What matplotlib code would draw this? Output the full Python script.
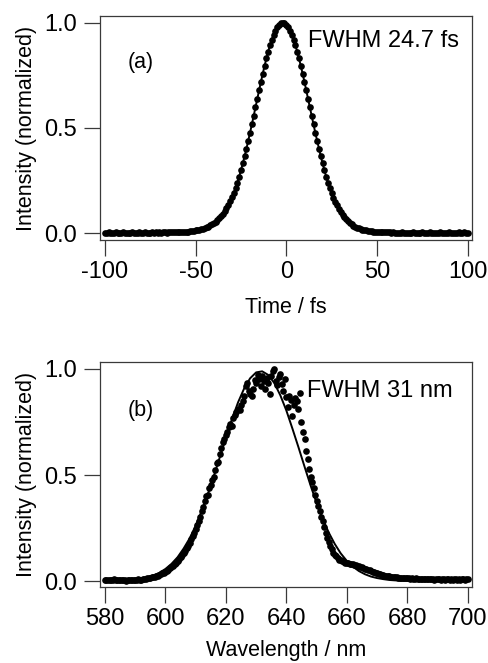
import numpy as np
import matplotlib
matplotlib.use("Agg")
import matplotlib.pyplot as plt

plt.rcParams['font.family'] = ['Liberation Sans', 'DejaVu Sans']
plt.rcParams['axes.unicode_minus'] = False

# ---- panel (a): autocorrelation trace, one point per fs ----
time_fs = np.arange(-100, 101, 1)
ac_signal = [
    0.002, 0.001, 0.003, 0.002, 0.002, 0.001, 0.003, 0.002, 0.001, 0.002,
    0.003, 0.002, 0.002, 0.001, 0.002, 0.003, 0.002, 0.002, 0.001, 0.003,
    0.002, 0.002, 0.003, 0.002, 0.001, 0.002, 0.003, 0.002, 0.003, 0.002,
    0.003, 0.002, 0.003, 0.003, 0.002, 0.003, 0.004, 0.003, 0.003, 0.004,
    0.004, 0.004, 0.005, 0.005, 0.006, 0.006, 0.007, 0.008,
    0.009, 0.010, 0.012, 0.013, 0.015, 0.017, 0.020, 0.023, 0.027, 0.031,
    0.036, 0.041, 0.047, 0.054, 0.062, 0.071, 0.081, 0.092, 0.105, 0.119,
    0.135, 0.152, 0.170, 0.191, 0.214, 0.240, 0.268, 0.299, 0.331, 0.365,
    0.401, 0.439, 0.477, 0.517, 0.557, 0.598, 0.639, 0.680, 0.720, 0.759,
    0.796, 0.831, 0.864, 0.894, 0.921, 0.945, 0.964, 0.980, 0.991, 0.998,
    1.000, 0.998, 0.991, 0.980, 0.964, 0.945, 0.921, 0.894, 0.864, 0.831,
    0.796, 0.759, 0.720, 0.680, 0.639, 0.598, 0.557, 0.517, 0.477, 0.439,
    0.401, 0.365, 0.331, 0.299, 0.268, 0.240, 0.214, 0.189, 0.167, 0.147,
    0.131, 0.114, 0.099, 0.086, 0.075, 0.065, 0.056, 0.048, 0.041, 0.035,
    0.030, 0.026, 0.022, 0.019, 0.016, 0.014, 0.012, 0.010, 0.009, 0.008,
    0.007, 0.006, 0.005, 0.005, 0.004, 0.004, 0.004, 0.003, 0.003, 0.003,
    0.002, 0.003, 0.002, 0.002, 0.001, 0.002, 0.003, 0.002, 0.002, 0.001,
    0.002, 0.002, 0.003, 0.002, 0.001, 0.002, 0.002, 0.003, 0.002, 0.001,
    0.002, 0.003, 0.002, 0.002, 0.001, 0.002, 0.002, 0.003, 0.002, 0.002,
    0.001, 0.002, 0.003, 0.002, 0.002, 0.001, 0.002, 0.003, 0.002, 0.002,
    0.003, 0.002, 0.002,
]

# ---- panel (b): spectrum, 0.5 nm steps ----
wavelength_nm = np.arange(580, 700.01, 0.5)
spectrum = [
    # 580 - 594.5
    0.006, 0.004, 0.007, 0.005, 0.003, 0.006, 0.008, 0.004, 0.005, 0.007,
    0.003, 0.005, 0.006, 0.004, 0.002, 0.005, 0.007, 0.004, 0.006, 0.005,
    0.003, 0.006, 0.008, 0.005, 0.007, 0.008, 0.010, 0.009, 0.012, 0.013,
    # 595 - 609.5
    0.015, 0.017, 0.018, 0.021, 0.024, 0.026, 0.030, 0.033, 0.036, 0.040,
    0.044, 0.049, 0.053, 0.060, 0.065, 0.072, 0.080, 0.086, 0.095, 0.103,
    0.114, 0.122, 0.133, 0.142, 0.156, 0.167, 0.180, 0.196, 0.211, 0.226,
    # 610 - 659.5
    0.244, 0.262, 0.284, 0.304, 0.330, 0.349, 0.376, 0.402, 0.404, 0.437,
    0.452, 0.478, 0.489, 0.522, 0.556, 0.561, 0.597, 0.626, 0.655, 0.668,
    0.691, 0.702, 0.726, 0.741, 0.733, 0.768, 0.781, 0.795, 0.812, 0.806,
    0.829, 0.851, 0.872, 0.918, 0.935, 0.896, 0.883, 0.871, 0.908, 0.947,
    0.934, 0.972, 0.951, 0.921, 0.968, 0.942, 0.905, 0.958, 0.936, 0.884,
    0.967, 0.989, 1.000, 0.943, 0.925, 0.962, 0.978, 0.931, 0.897, 0.952,
    0.866, 0.823, 0.871, 0.853, 0.779, 0.832, 0.861, 0.847, 0.812, 0.889,
    0.752, 0.703, 0.668, 0.612, 0.576, 0.530, 0.492, 0.466, 0.437, 0.404,
    0.379, 0.352, 0.331, 0.303, 0.281, 0.253, 0.226, 0.205, 0.183, 0.166,
    0.151, 0.134, 0.124, 0.116, 0.108, 0.101, 0.097, 0.093, 0.090, 0.087,
    # 660 - 679.5
    0.085, 0.083, 0.081, 0.080, 0.078, 0.076, 0.074, 0.073, 0.070, 0.068,
    0.065, 0.063, 0.059, 0.056, 0.053, 0.050, 0.047, 0.044, 0.041, 0.039,
    0.036, 0.034, 0.032, 0.030, 0.028, 0.026, 0.025, 0.023, 0.022, 0.021,
    0.020, 0.019, 0.018, 0.017, 0.016, 0.016, 0.015, 0.014, 0.014, 0.013,
    # 680 - 700
    0.012, 0.013, 0.011, 0.012, 0.010, 0.011, 0.012, 0.010, 0.009, 0.011,
    0.010, 0.009, 0.010, 0.008, 0.009, 0.010, 0.008, 0.009, 0.007, 0.009,
    0.008, 0.009, 0.007, 0.008, 0.010, 0.007, 0.008, 0.009, 0.006, 0.008,
    0.007, 0.009, 0.008, 0.006, 0.008, 0.007, 0.009, 0.008, 0.007, 0.008,
    0.009,
]

# gaussian fit of the spectrum, 2 nm steps
fit_wavelength = np.arange(580, 701, 2)
spectrum_fit = [
    0.001, 0.001, 0.002, 0.003, 0.004, 0.007, 0.011, 0.017, 0.026, 0.039,
    0.057, 0.081, 0.112, 0.153, 0.201, 0.261, 0.331, 0.409, 0.495, 0.585,
    0.676, 0.763, 0.842, 0.907, 0.956, 0.984, 0.989, 0.972, 0.934, 0.876,
    0.804, 0.719, 0.631, 0.540, 0.451, 0.368, 0.294, 0.229, 0.175, 0.130,
    0.095, 0.068, 0.047, 0.032, 0.021, 0.014, 0.009, 0.005, 0.003, 0.002,
    0.001, 0.001, 0.001, 0.001, 0.001, 0.001, 0.001, 0.001, 0.001, 0.001,
    0.001,
]

lab_fs = 15.5
tick_fs = 17
frame_col = '#3a3a3a'

fig = plt.figure(figsize=(4.89, 6.63), dpi=100)
ax1 = fig.add_axes([0.2045, 0.638, 0.7607, 0.3379])
ax2 = fig.add_axes([0.2045, 0.1146, 0.7607, 0.3394])

ax1.plot(time_fs, ac_signal, color='black', lw=1.4, zorder=2)
ax1.plot(time_fs, ac_signal, 'o', color='black', ms=4.8, mec='none', zorder=3)
ax1.set_xlim(-102.75, 102.4)
ax1.set_ylim(-0.0333, 1.0333)
ax1.set_xticks([-100, -50, 0, 50, 100])
ax1.set_xlabel('Time / fs', fontsize=lab_fs, labelpad=10)
ax1.text(-87.3, 0.786, '(a)', fontsize=lab_fs, va='baseline')
ax1.text(11.8, 0.886, 'FWHM 24.7 fs', fontsize=tick_fs, va='baseline')

ax2.plot(wavelength_nm, spectrum, 'o', color='black', ms=4.8, mec='none', zorder=3)
ax2.plot(fit_wavelength, spectrum_fit, color='black', lw=1.4, zorder=4)
ax2.set_xlim(578.35, 701.4)
ax2.set_ylim(-0.0283, 1.033)
ax2.set_xticks(np.arange(580, 701, 20))
ax2.set_xlabel('Wavelength / nm', fontsize=lab_fs, labelpad=7.5)
ax2.text(587.6, 0.778, '(b)', fontsize=lab_fs, va='baseline')
ax2.text(646.7, 0.868, 'FWHM 31 nm', fontsize=tick_fs, va='baseline')

for ax in (ax1, ax2):
    ax.set_yticks([0.0, 0.5, 1.0])
    ax.set_yticklabels(['0.0', '0.5', '1.0'])
    ax.set_ylabel('Intensity (normalized)', fontsize=lab_fs, labelpad=5)
    ax.tick_params(axis='both', direction='out', length=11.5, width=0.9,
                   color=frame_col, labelsize=tick_fs)
    ax.tick_params(axis='x', pad=3.5)
    ax.tick_params(axis='y', pad=5)
    for s in ax.spines.values():
        s.set_color(frame_col)
        s.set_linewidth(0.9)

fig.savefig('out.png', dpi=100)
